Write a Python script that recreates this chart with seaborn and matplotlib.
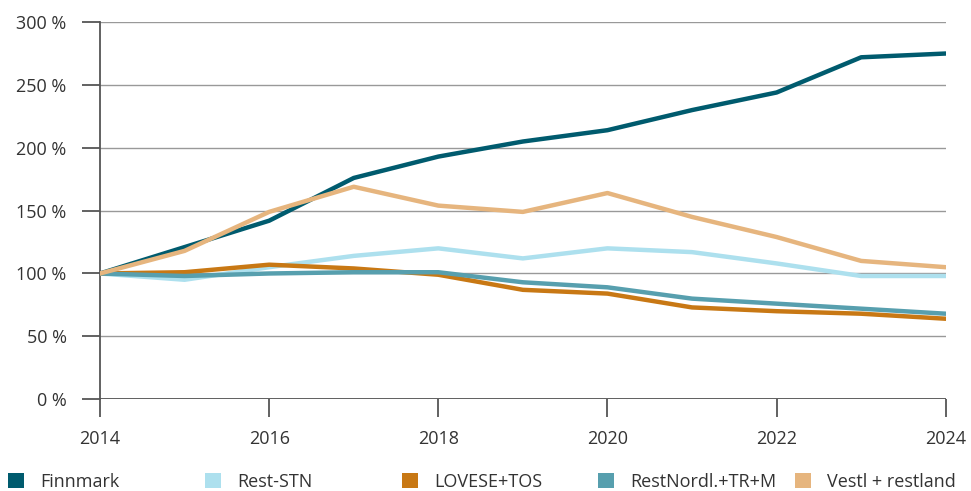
import pandas as pd
import numpy as np
import matplotlib
matplotlib.use("Agg")
import matplotlib.pyplot as plt
import seaborn as sns
from matplotlib.patches import Patch
from matplotlib.ticker import FuncFormatter

# Index, 2014 = 100 %
years = list(range(2014, 2025))
finnmark = [100, 121, 142, 176, 193, 205, 214, 230, 244, 272, 275]
rest_stn = [100, 95, 105, 114, 120, 112, 120, 117, 108, 98, 98]
lovese_tos = [100, 101, 107, 104, 99, 87, 84, 73, 70, 68, 64]
restnordl = [100, 98, 100, 101, 101, 93, 89, 80, 76, 72, 68]
vestl = [100, 118, 149, 169, 154, 149, 164, 145, 129, 110, 105]

series_names = ["Finnmark", "Rest-STN", "LOVESE+TOS", "RestNordl.+TR+M", "Vestl + restland"]
colors = ["#005b6e", "#ade0ee", "#c87814", "#579fae", "#e6b57e"]

data = pd.DataFrame({"year": years,
                     "Finnmark": finnmark,
                     "Rest-STN": rest_stn,
                     "LOVESE+TOS": lovese_tos,
                     "RestNordl.+TR+M": restnordl,
                     "Vestl + restland": vestl})
long = data.melt(id_vars="year", var_name="serie", value_name="value")

sns.set_style("white")
plt.rcParams['font.family'] = ['Open Sans', 'DejaVu Sans']
text_col = "#333333"
axis_col = "#555555"

fig = plt.figure(figsize=(9.71, 4.91), dpi=100)
ax = fig.add_axes([0.103, 0.187, 0.871, 0.768])

sns.lineplot(data=long, x="year", y="value", hue="serie", hue_order=series_names,
             palette=colors, linewidth=3.2, legend=False, ax=ax, zorder=3)

ax.set_xlim(2014, 2024)
ax.set_ylim(0, 300)
ax.set_xticks(range(2014, 2025, 2))
ax.set_yticks(range(0, 301, 50))
ax.yaxis.set_major_formatter(FuncFormatter(lambda v, p: f"{int(v)} %"))
ax.grid(axis="y", color="#999999", linewidth=1.0)
ax.set_axisbelow(True)
for s in ["top", "right", "bottom"]:
    ax.spines[s].set_visible(False)
ax.spines["left"].set_color(axis_col)
ax.spines["left"].set_linewidth(1.3)
ax.axhline(0, color=axis_col, linewidth=1.3, zorder=2)
ax.tick_params(axis="both", which="both", length=13, width=1.3, color=axis_col,
               labelsize=13, labelcolor=text_col, direction="out")
ax.tick_params(axis="x", bottom=True, pad=9)
ax.tick_params(axis="y", left=True, pad=11)
ax.set_xlabel("")
ax.set_ylabel("")

# legend items at fixed positions
leg_x = [0.008, 0.211, 0.414, 0.616, 0.819]
for name, col, x in zip(series_names, colors, leg_x):
    lg = fig.legend(handles=[Patch(facecolor=col, edgecolor="none")], labels=[name],
                    loc="center left", bbox_to_anchor=(x, 0.019), frameon=False,
                    fontsize=13, handlelength=0.89, handleheight=0.89, handletextpad=0.89,
                    borderaxespad=0, borderpad=0)
    for t in lg.get_texts():
        t.set_color(text_col)

fig.savefig("out.png", dpi=100)
